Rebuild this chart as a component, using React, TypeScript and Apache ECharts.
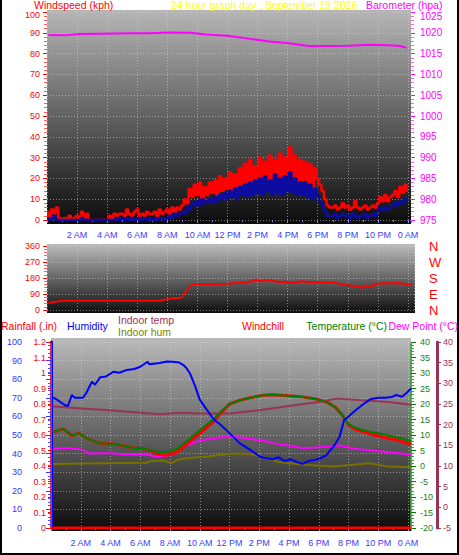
import React, { useEffect, useRef } from "react";
import * as echarts from "echarts";

// ---------- DATA ----------
// Wind speed (kph), 10-minute samples from 0:00 to 24:00
const windGust = [
  4, 2, 5, 3, 6, 1,
  0, 1, 0, 2, 0, 1,
  2, 0, 4, 1, 3, 0,
  0, 0, 0, 0, 0, 0,
  0, 2, 1, 3, 2, 3,
  3, 2, 5, 3, 2, 4,
  5, 2, 3, 2, 4, 3,
  3, 4, 2, 5, 3, 4,
  5, 3, 6, 4, 6, 5,
  7, 10, 8, 15, 11, 17,
  12, 18, 10, 16, 12, 18,
  13, 19, 12, 21, 14, 20,
  15, 23, 14, 22, 16, 25,
  17, 27, 18, 29, 17, 26,
  19, 30, 18, 28, 19, 31,
  20, 29, 18, 32, 19, 30,
  21, 35, 19, 31, 18, 29,
  19, 28, 17, 27, 16, 25,
  20, 17, 14, 10, 7, 6,
  6, 7, 5, 6, 8, 6,
  7, 5, 6, 9, 6, 5,
  6, 7, 5, 6, 7, 6,
  8, 11, 9, 12, 9, 11,
  12, 14, 11, 16, 13, 17,
  14,
];
const windAvg = [
  1, 0, 1, 2, 0, 0,
  0, 0, 0, 0, 0, 0,
  0, 0, 1, 0, 0, 0,
  0, 0, 0, 0, 0, 0,
  0, 0, 0, 0, 1, 0,
  1, 0, 1, 0, 1, 0,
  1, 0, 0, 1, 0, 1,
  0, 1, 0, 1, 1, 0,
  1, 2, 1, 3, 2, 3,
  4, 3, 6, 5, 8, 7,
  9, 7, 10, 8, 9, 10,
  8, 11, 9, 12, 10, 13,
  10, 14, 11, 15, 10, 16,
  12, 17, 11, 18, 12, 19,
  13, 20, 12, 21, 14, 19,
  12, 22, 13, 20, 12, 21,
  14, 23, 13, 20, 12, 18,
  12, 18, 11, 17, 10, 15,
  12, 9, 7, 4, 2, 2,
  2, 3, 1, 2, 3, 2,
  2, 1, 3, 2, 1, 2,
  2, 3, 1, 2, 3, 2,
  4, 6, 5, 6, 5, 6,
  7, 8, 7, 9, 8, 10,
  9,
];

const baroTimes = [0.1, 1.2, 2.2, 3.5, 5.5, 6.8, 8.2, 9.5, 10.6, 12, 13.4, 14.8, 16.1, 17.4, 18.7, 20.1, 21.4, 22.7, 23.5, 23.9];
const baroValues = [1019.5, 1019.4, 1019.7, 1019.8, 1019.9, 1019.9, 1020.1, 1020.0, 1019.6, 1019.3, 1018.6, 1017.9, 1017.5, 1016.8, 1016.8, 1016.9, 1017.1, 1017.0, 1016.8, 1016.4];

const dirTimes = [0.1, 0.4, 0.7, 1.0, 3.0, 5.0, 7.4, 7.8, 8.1, 8.4, 8.9, 9.05, 9.2, 9.4, 9.6, 9.8, 10.0, 11.0, 12.0, 12.6, 13.2, 13.6, 13.9, 14.1, 14.5, 15.0, 15.4, 15.8, 16.2, 16.6, 17.0, 17.4, 17.8, 18.2, 18.6, 19.0, 19.3, 19.8, 20.4, 20.8, 20.95, 21.2, 21.6, 21.8, 22.5, 23.0, 23.4, 23.7, 23.9, 24.2];
const dirValues = [39, 45, 48, 52, 52, 52, 52, 58, 62, 67, 67, 80, 100, 122, 140, 144, 146, 146, 148, 152, 156, 160, 172, 160, 168, 164, 158, 159, 152, 157, 162, 158, 157, 156, 154, 154, 150, 140, 137, 134, 125, 138, 132, 148, 150, 150, 152, 148, 140, 146];

const humTimes = [0.13, 0.4, 0.94, 1.14, 1.4, 1.6, 2.15, 2.4, 2.75, 2.96, 3.3, 3.7, 4.2, 4.6, 5.1, 5.6, 6.0, 6.5, 6.6, 7.3, 7.8, 8.2, 8.6, 8.9, 9.1, 9.35, 9.7, 10.0, 10.35, 10.7, 11.0, 11.4, 12.0, 12.7, 13.4, 14.05, 14.5, 14.9, 15.3, 15.7, 16.1, 16.5, 16.9, 17.3, 17.7, 18.1, 18.5, 18.8, 19.1, 19.4, 19.7, 20.0, 20.5, 20.9, 21.5, 22.05, 22.5, 22.9, 23.2, 23.6, 23.9, 24.2];
const humValues = [70.3, 69, 66, 65.6, 71.5, 70, 70, 73, 78.6, 77, 81, 81.5, 84, 83.5, 85, 85.5, 86.7, 89.4, 88, 88.7, 89.5, 89.4, 89, 87.6, 86, 83, 76, 69, 65, 61, 58, 55.5, 51, 45.5, 42, 38.3, 37.5, 37, 38, 36, 37, 35.5, 34.5, 36, 36.5, 37.5, 39, 42, 45, 49, 58, 60, 63.4, 66, 69.4, 70, 70, 70.4, 71.5, 70.6, 72.6, 75];

const tempTimes = [0.13, 0.5, 0.8, 1.1, 1.4, 1.9, 2.4, 2.9, 3.3, 4.2, 4.8, 5.5, 6.4, 7.1, 7.6, 8.0, 8.5, 9.0, 9.4, 10.0, 10.5, 10.9, 11.4, 12.0, 12.7, 13.4, 14.25, 14.9, 15.5, 16.1, 16.9, 17.9, 18.55, 19.1, 19.4, 19.6, 20.0, 20.4, 20.9, 21.5, 22.05, 22.7, 23.4, 24.2];
const tempValues = [10.9, 11.5, 12, 11, 9.8, 10.6, 8.9, 8, 7.3, 7.1, 6.6, 5.8, 5.5, 4.6, 4.5, 4.8, 5.6, 7.5, 9.2, 11.5, 13.5, 15, 17.5, 20, 21.2, 22, 22.8, 23, 22.8, 22.6, 22.3, 21.5, 20.6, 19, 17.4, 16.3, 13.6, 12.5, 11.7, 11, 10.6, 9.8, 9.2, 8];
const chillValues = [10.9, 11.5, 12, 11, 9.8, 10.6, 8.9, 8, 7.3, 7.1, 6.6, 5.8, 5.5, 4.0, 3.5, 3.8, 4.6, 6.5, 8.2, 10.5, 12.5, 14.2, 17, 20, 21.2, 22, 22.8, 23, 22.8, 22.6, 22.3, 21.5, 20.6, 19, 17.4, 16.3, 13.3, 12, 11.2, 10.3, 9.6, 8.9, 8.2, 7];

const dewTimes = [0.13, 1.1, 2.2, 2.5, 3.1, 4.0, 4.6, 5.3, 6.4, 7.1, 7.8, 8.5, 9.1, 10.0, 11.2, 12.0, 12.8, 13.6, 14.3, 15.0, 16.0, 16.9, 17.8, 19.4, 20.5, 21.6, 22.7, 24.2];
const dewValues = [5.5, 5.8, 5.2, 4.0, 4.1, 4.1, 3.9, 3.7, 3.7, 3.0, 3.3, 4.7, 6.6, 8.2, 9.1, 9.5, 9.2, 8.6, 8.2, 7.3, 6.6, 5.8, 6.0, 6.6, 5.5, 5.0, 4.4, 3.7];

const inTempTimes = [0.13, 2.1, 3.9, 6.0, 7.3, 8.7, 10.0, 12.0, 14.0, 16.0, 18.0, 19.2, 20.9, 22.7, 24.2];
const inTempValues = [24.4, 23.9, 23.5, 22.9, 22.5, 22.9, 22.7, 22.7, 23.5, 24.5, 25.5, 26.3, 25.9, 25.5, 24.8];

const inHumTimes = [0.13, 3.3, 6.4, 6.8, 7.6, 8.1, 8.5, 9.1, 10.5, 12.2, 13.3, 14.3, 15.3, 17.2, 19.0, 21.4, 22.7, 24.2];
const inHumValues = [34.4, 34.8, 35.1, 36.2, 36.2, 34.8, 36.6, 37.5, 38.5, 40.1, 39.8, 38.0, 35.5, 33.9, 33.0, 34.8, 33.0, 32.6];

const rainTimes = [0, 6, 12, 18, 24.2];
const rainValues = [0, 0, 0, 0, 0];

const titleText = "24 hour graph day : September 19 2026";

// ---------- HELPERS ----------
const FONT = "'Liberation Sans', Arial, sans-serif";
const pairs = (t: number[], v: number[]) => t.map((x, i) => [x, v[i]]);
const windPairs = (v: number[]) => v.map((y, i) => [i / 6, y]);
const hourLabel = (v: number) => {
  if (Math.abs(v - Math.round(v)) > 0.01) return "";
  const h = Math.round(v) % 24;
  if (h === 0) return "0 AM";
  if (h < 12) return h + " AM";
  if (h === 12) return "12 PM";
  return h - 12 + " PM";
};
const grad = (top: string, bottom: string) =>
  new echarts.graphic.LinearGradient(0, 0, 0, 1, [
    { offset: 0, color: top },
    { offset: 1, color: bottom },
  ]);
const gridLine = { show: true, lineStyle: { color: "rgba(215,215,215,0.55)", type: [1, 2] as any, width: 1 } };

const xAxisBase = (gridIndex: number, max: number, showLabels: boolean) => ({
  type: "value",
  gridIndex,
  min: 0,
  max,
  interval: 2,
  axisLine: { show: false },
  axisTick: { show: showLabels, length: 3, lineStyle: { color: "#8080ff" } },
  minorTick: { show: showLabels, splitNumber: 2, length: 2, lineStyle: { color: "#8080ff" } },
  axisLabel: {
    show: showLabels,
    color: "#3c3cff",
    fontSize: 9,
    fontFamily: FONT,
    margin: 10,
    showMinLabel: false,
    showMaxLabel: false,
    formatter: hourLabel,
  },
  splitLine: gridLine,
});

const line = (name: string, data: number[][], color: string, xi: number, yi: number, width = 2, step: any = false) => ({
  name,
  type: "line",
  xAxisIndex: xi,
  yAxisIndex: yi,
  data,
  step,
  showSymbol: false,
  symbol: "none",
  lineStyle: { color, width },
  itemStyle: { color },
  z: 3,
});

// top label of the upper panel is nudged down a little so it clears the title row
const topLabel = (max: number) => (v: number) => (v === max ? "{t|" + v + "}" : String(v));

const dirNames: Record<number, string> = { 0: "N", 90: "E", 180: "S", 270: "W", 360: "N" };

export default function App() {
  const ref = useRef<HTMLDivElement>(null);
  useEffect(() => {
    const chart = echarts.init(ref.current!, null, { renderer: "svg" });
    const txt = (text: string, x: number, y: number, color: string, align = "left", size = 11) => ({
      type: "text",
      x,
      y,
      z: 5,
      style: { text, fill: color, fontSize: size, fontFamily: FONT, align, verticalAlign: "middle" },
    });
    const option: any = {
      animation: false,
      backgroundColor: "#ffffff",
      grid: [
        { left: 47, top: 12, width: 364, height: 208 },
        { left: 47, top: 246, width: 367, height: 64 },
        { left: 51, top: 342, width: 360, height: 186 },
      ],
      xAxis: [xAxisBase(0, 24.2, true), xAxisBase(1, 24.4, false), xAxisBase(2, 24.2, true)],
      yAxis: [
        {
          type: "value", gridIndex: 0, position: "left", min: 0, max: 100, interval: 10,
          axisLine: { show: false },
          axisTick: { show: true, length: 4, lineStyle: { color: "#ff0000" } },
          minorTick: { show: true, splitNumber: 5, length: 3, lineStyle: { color: "#ff6060" } },
          axisLabel: {
            color: "#ff0000", fontSize: 9, fontFamily: FONT, margin: 7, formatter: topLabel(100),
            rich: { t: { color: "#ff0000", fontSize: 9, fontFamily: FONT, padding: [6, 0, 0, 0] } },
          },
          splitLine: gridLine,
        },
        {
          type: "value", gridIndex: 0, position: "right", min: 975, max: 1025, interval: 5,
          axisLine: { show: false },
          axisTick: { show: true, length: 4, lineStyle: { color: "#ff00ff" } },
          minorTick: { show: true, splitNumber: 5, length: 3, lineStyle: { color: "#ff60ff" } },
          axisLabel: {
            color: "#ff00ff", fontSize: 10, fontFamily: FONT, margin: 9, formatter: topLabel(1025),
            rich: { t: { color: "#ff00ff", fontSize: 10, fontFamily: FONT, padding: [9, 0, 0, 0] } },
          },
          splitLine: { show: false },
        },
        {
          type: "value", gridIndex: 1, position: "left", min: 0, max: 360, interval: 90,
          axisLine: { show: false },
          axisTick: { show: true, length: 4, lineStyle: { color: "#ff0000" } },
          minorTick: { show: true, splitNumber: 5, length: 3, lineStyle: { color: "#ff6060" } },
          axisLabel: { color: "#ff0000", fontSize: 9, fontFamily: FONT, margin: 7 },
          splitLine: gridLine,
        },
        {
          type: "value", gridIndex: 1, position: "right", min: 0, max: 360, interval: 90,
          axisLine: { show: false }, axisTick: { show: false },
          axisLabel: { color: "#ff0000", fontSize: 13, fontFamily: FONT, margin: 15, formatter: (v: number) => dirNames[v] ?? "" },
          splitLine: { show: false },
        },
        {
          type: "value", gridIndex: 2, position: "left", offset: 20, min: 0, max: 100, interval: 10,
          axisLine: { show: true, lineStyle: { color: "#0000ff", width: 3 } },
          axisTick: { show: true, length: 5, lineStyle: { color: "#3333ff" } },
          minorTick: { show: true, splitNumber: 5, length: 3, lineStyle: { color: "#5050ff" } },
          axisLabel: { color: "#3333ff", fontSize: 9, fontFamily: FONT, margin: 9 },
          splitLine: gridLine,
        },
        {
          type: "value", gridIndex: 2, position: "left", offset: 0, min: 0, max: 1.2, interval: 0.1,
          axisLine: { show: true, lineStyle: { color: "#ff3030", width: 2, type: [1, 2] } },
          axisTick: { show: true, length: 3, lineStyle: { color: "#ff0000" } },
          minorTick: { show: false },
          axisLabel: { color: "#ff0000", fontSize: 9, fontFamily: FONT, margin: 5, formatter: (v: number) => String(Number(v.toFixed(1))) },
          splitLine: { show: false },
        },
        {
          type: "value", gridIndex: 2, position: "right", offset: 0, min: -20, max: 40, interval: 5,
          axisLine: { show: true, lineStyle: { color: "#40a040", width: 2, type: [1, 2] } },
          axisTick: { show: true, length: 5, lineStyle: { color: "#008000" } },
          minorTick: { show: true, splitNumber: 5, length: 3, lineStyle: { color: "#40a040" } },
          axisLabel: { color: "#208020", fontSize: 9, fontFamily: FONT, margin: 9 },
          splitLine: { show: false },
        },
        {
          type: "value", gridIndex: 2, position: "right", offset: 26, min: -5, max: 40, interval: 5,
          axisLine: { show: true, lineStyle: { color: "#993355", width: 3 } },
          axisTick: { show: true, length: 4, lineStyle: { color: "#993355" } },
          minorTick: { show: false },
          axisLabel: { color: "#993355", fontSize: 9, fontFamily: FONT, margin: 6 },
          splitLine: { show: false },
        },
      ],
      graphic: [
        { type: "rect", z: -1, shape: { x: 47, y: 10, width: 364, height: 214 }, style: { fill: grad("#b6b6b6", "#0c0c0c") } },
        { type: "rect", z: -1, shape: { x: 47, y: 244, width: 368, height: 69 }, style: { fill: grad("#bcbcbc", "#0e0e0e") } },
        { type: "rect", z: -1, shape: { x: 51, y: 338, width: 360, height: 193 }, style: { fill: grad("#bababa", "#0c0c0c") } },
        { type: "rect", z: 6, shape: { x: 1, y: -2, width: 457, height: 556 }, style: { fill: "none", stroke: "#000000", lineWidth: 2 } },
        txt("Windspeed (kph)", 34, 5.3, "#ff0000", "left", 10.5),
        txt(titleText, 171, 5.3, "#ffff00", "left", 10.5),
        txt("Barometer (hpa)", 366, 5.3, "#ff00ff", "left", 10.5),
        txt("Rainfall (.in)", 1, 326, "#ff0000", "left", 10.5),
        txt("Humidity", 67, 326, "#0000ff", "left", 10.5),
        txt("Indoor temp", 118, 320, "#993355", "left", 10.5),
        txt("Indoor hum", 118, 332, "#808000", "left", 10.5),
        txt("Windchill", 242, 326, "#ff0000", "left", 10.5),
        txt("Temperature (°C)", 387, 326, "#008000", "right", 10.5),
        txt("Dew Point (°C)", 458, 326, "#ff00ff", "right", 10.5),
      ],
      series: [
        line("Barometer", pairs(baroTimes, baroValues), "#ff00ff", 0, 1, 2),
        line("Gust", windPairs(windGust), "#ff0000", 0, 0, 2.5, "middle"),
        line("Average", windPairs(windAvg), "#0c0ca0", 0, 0, 2.5, "middle"),
        line("Direction", pairs(dirTimes, dirValues), "#ff0000", 1, 2, 2),
        line("Rainfall", pairs(rainTimes, rainValues), "#ff0000", 2, 5, 3),
        line("Indoor hum", pairs(inHumTimes, inHumValues), "#7a7000", 2, 4, 2),
        line("Indoor temp", pairs(inTempTimes, inTempValues), "#993355", 2, 7, 2),
        line("Dew Point", pairs(dewTimes, dewValues), "#ff00ff", 2, 6, 2),
        line("Windchill", pairs(tempTimes, chillValues), "#ff0000", 2, 6, 3),
        line("Temperature", pairs(tempTimes, tempValues), "#008000", 2, 6, 2),
        line("Humidity", pairs(humTimes, humValues), "#0000ff", 2, 4, 2),
      ],
    };
    chart.setOption(option);
    return () => chart.dispose();
  }, []);
  return (
    <div
      ref={ref}
      style={{ position: "fixed", left: 0, top: 0, width: 459, height: 555, background: "#ffffff" }}
    />
  );
}
